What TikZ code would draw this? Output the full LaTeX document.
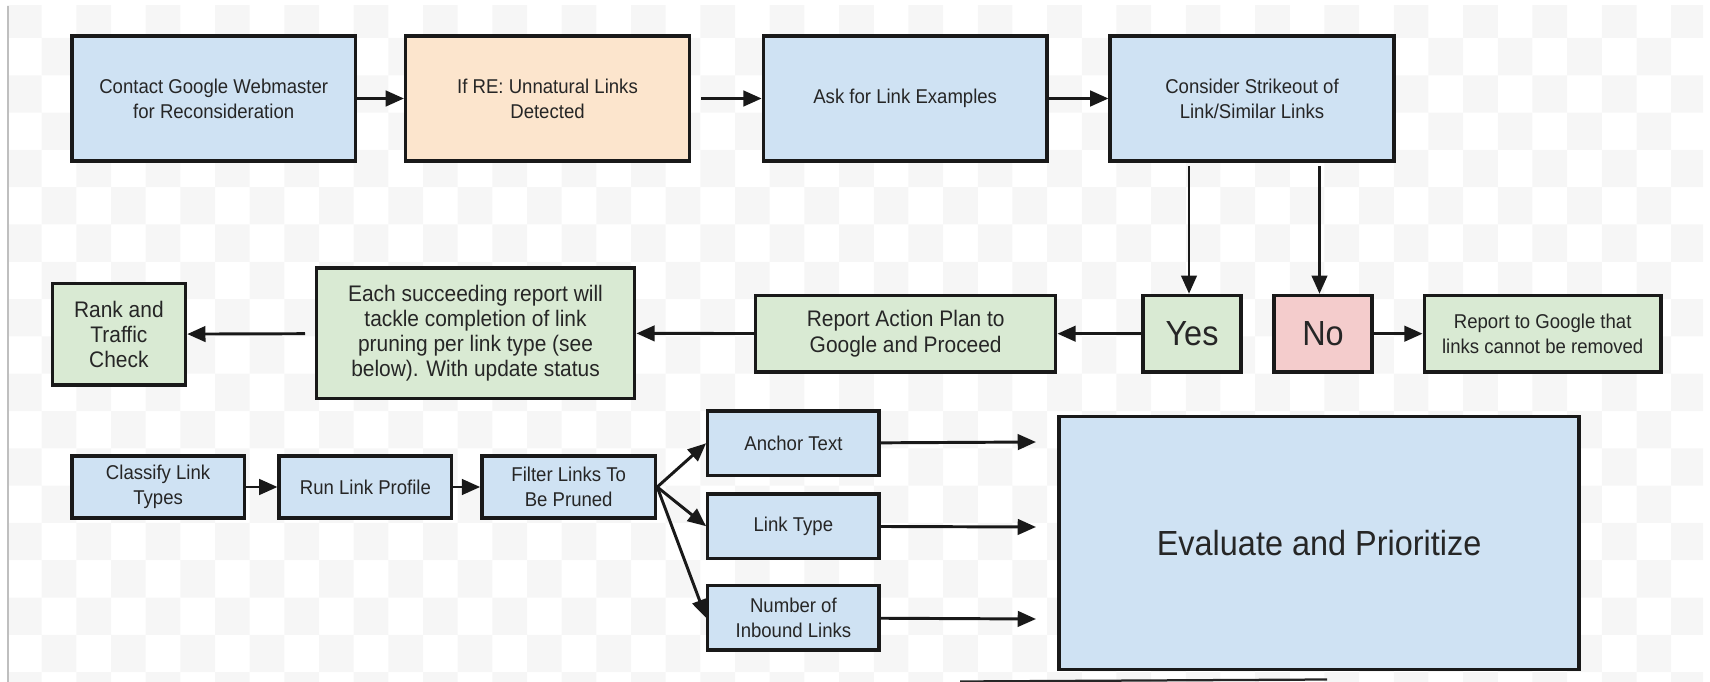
\documentclass[tikz,border=0pt]{standalone}
\usepackage{fontspec}
\setmainfont{Liberation Sans}[FakeStretch=0.93]
\usepackage{tikz}
\usetikzlibrary{arrows.meta}

\definecolor{azul}{HTML}{CFE2F3}
\definecolor{naranja}{HTML}{FCE5CD}
\definecolor{verde}{HTML}{D9EAD3}
\definecolor{rosa}{HTML}{F4CCCC}
\definecolor{cuadro}{HTML}{F6F6F6}

\begin{document}
\begin{tikzpicture}[x=0.025cm, y=-0.025cm,
    flowbox/.style={draw=black!90, line width=2.4pt, rectangle, inner sep=0pt,
      align=center, text=black!85, font=\fontsize{14.2}{17.8}\selectfont},
    midtext/.style={font=\fontsize{16}{18}\selectfont},
    bigtext/.style={font=\fontsize{24.8}{28}\selectfont},
    >={Triangle[length=13pt,width=11pt]},
    flecha/.style={->, line width=2.1pt, black!90}]
        \useasboundingbox (0,0) rectangle (1710,682);
        % Fondo a cuadros
        \begin{scope}
            \clip (7,6) rectangle (1703,682);
            \foreach \i in {0,2,...,48}
                \foreach \j in {0,2,...,18}
                    \fill[cuadro] (7+34.67*\i,0.7+37.3*\j) rectangle +(34.67,37.3)
                        (7+34.67*\i+34.67,0.7+37.3*\j+37.3) rectangle +(34.67,37.3);
        \end{scope}
        \draw[black!25, line width=1pt] (8,6) -- (8,682);
        \draw[black!85, line width=1.6pt] (960,681.5) -- (1327,679.5);

        % Fila superior
            \node[flowbox, fill=azul, minimum width=7.09cm, minimum height=3.13cm] (contact) at (213.7,98.5) {Contact Google Webmaster\\for Reconsideration};
            \node[flowbox, fill=naranja, minimum width=7.09cm, minimum height=3.13cm] (unnat) at (547.5,98.5) {If RE: Unnatural Links\\Detected};
            \node[flowbox, fill=azul, minimum width=7.09cm, minimum height=3.13cm] (ask) at (905.2,98.5) {Ask for Link Examples};
            \node[flowbox, fill=azul, minimum width=7.09cm, minimum height=3.13cm] (strike) at (1252,98.5) {Consider Strikeout of\\Link/Similar Links};

        % Fila central
            \node[flowbox, midtext, fill=verde, minimum width=3.33cm, minimum height=2.54cm] (rank) at (118.9,334.3) {Rank and\\Traffic\\Check};
            \node[flowbox, midtext, fill=verde, minimum width=7.96cm, minimum height=3.25cm] (each) at (475.5,333.2) {Each succeeding report will\\tackle completion of link\\pruning per link type (see\\below). With update status};
            \node[flowbox, midtext, fill=verde, minimum width=7.5cm, minimum height=1.91cm] (plan) at (905.7,333.7) {Report Action Plan to\\Google and Proceed};
            \node[flowbox, bigtext, fill=verde, minimum width=2.45cm, minimum height=1.91cm] (yes) at (1192,333.7) {Yes};
            \node[flowbox, bigtext, fill=rosa, minimum width=2.45cm, minimum height=1.91cm] (no) at (1323,333.7) {No};
            \node[flowbox, fill=verde, minimum width=5.92cm, minimum height=1.91cm] (report) at (1542.7,333.7) {Report to Google that\\links cannot be removed};

        % Fila inferior
            \node[flowbox, fill=azul, minimum width=4.31cm, minimum height=1.55cm] (classify) at (158.1,487) {Classify Link\\Types};
            \node[flowbox, fill=azul, minimum width=4.31cm, minimum height=1.55cm] (profile) at (365.4,487) {Run Link Profile};
            \node[flowbox, fill=azul, minimum width=4.34cm, minimum height=1.55cm] (filter) at (568.7,487) {Filter Links To\\Be Pruned};
            \node[flowbox, fill=azul, minimum width=4.28cm, minimum height=1.61cm] (anchor) at (793.4,443.3) {Anchor Text};
            \node[flowbox, fill=azul, minimum width=4.28cm, minimum height=1.61cm] (ltype) at (793.4,526.2) {Link Type};
            \node[flowbox, fill=azul, minimum width=4.28cm, minimum height=1.61cm] (inbound) at (793.4,617.8) {Number of\\Inbound Links};
            \node[flowbox, bigtext, fill=azul, minimum width=13cm, minimum height=6.33cm] (evaluate) at (1319.1,543.1) {Evaluate and Prioritize};

        % Extremos libres
            \coordinate (u1) at (701,98.5);
            \coordinate (sy) at (1189,166);
            \coordinate (sn) at (1319.5,166);
            \coordinate (e1) at (305,333.7);
            \coordinate (a1) at (1036,442);
            \coordinate (l1) at (1036,527);
            \coordinate (n1) at (1036,619);

        % Conectores
            \draw[flecha] (contact) -- (unnat);
            \draw[flecha] (u1) -- (ask);
            \draw[flecha] (ask) -- (strike);
            \draw[flecha] (sy) -- (sy |- yes.north);
            \draw[flecha] (sn) -- (sn |- no.north);
            \draw[flecha] (yes) -- (plan);
            \draw[flecha] (plan) -- (each);
            \draw[flecha] (e1) -- (rank);
            \draw[flecha] (no) -- (report);
            \draw[flecha] (classify) -- (profile);
            \draw[flecha] (profile) -- (filter);
            \draw[flecha] (filter.east) -- (anchor.west);
            \draw[flecha] (filter.east) -- (ltype.west);
            \draw[flecha] (filter.east) -- (inbound.west);
            \draw[flecha] (anchor) -- (a1);
            \draw[flecha] (ltype) -- (l1);
            \draw[flecha] (inbound) -- (n1);
        \end{tikzpicture}
\end{document}
